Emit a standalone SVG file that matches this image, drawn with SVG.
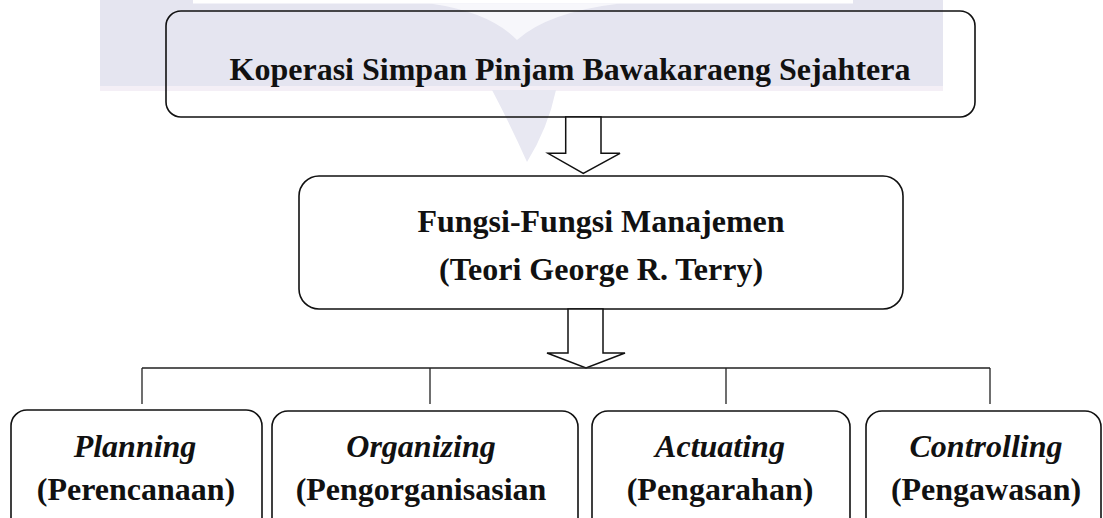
<svg xmlns="http://www.w3.org/2000/svg" width="1103" height="518" viewBox="0 0 1103 518">
<style>
.box{fill:none;stroke:#111;stroke-width:1.6}
.t{font-family:"Liberation Serif","Times New Roman",serif;font-size:32px;font-weight:bold;fill:#111;text-anchor:middle}
.i{font-style:italic}
.ln{stroke:#222;stroke-width:1.3;fill:none}
.arr{fill:#fff;stroke:#111;stroke-width:1.5;stroke-linejoin:miter}
</style>
<rect width="1103" height="518" fill="#fff"/>
<g id="watermark">
<rect x="100" y="0" width="843" height="90" fill="#e5e5f0"/>
<rect x="193" y="0" width="660" height="3.5" fill="#fff"/>
<path d="M430 3.5 Q490 12 517 40 Q548 12 620 3.5 Z" fill="#f7f7fb"/>
<rect x="100" y="86" width="843" height="5" fill="#f4eff6"/>
<path d="M492 90 L556 90 Q548 128 527 162 Q512 128 492 90 Z" fill="#e8e8f2"/>
</g>
<g id="n-koperasi">
<rect class="box" x="166" y="11" width="809" height="106" rx="15"/>
<text class="t" x="570" y="80">Koperasi Simpan Pinjam Bawakaraeng Sejahtera</text>
</g>
<g id="n-fungsi">
<rect class="box" x="299" y="176" width="604" height="133" rx="20"/>
<text class="t" x="601" y="232">Fungsi-Fungsi Manajemen</text>
<text class="t" x="601" y="280">(Teori George R. Terry)</text>
</g>
<g id="n-planning">
<rect class="box" x="11" y="410" width="251" height="140" rx="16"/>
<text class="t i" x="135" y="457">Planning</text>
<text class="t" x="136" y="500">(Perencanaan)</text>
</g>
<g id="n-organizing">
<rect class="box" x="272" y="411" width="306" height="140" rx="16"/>
<text class="t i" x="421" y="457">Organizing</text>
<text class="t" x="421" y="500">(Pengorganisasian</text>
</g>
<g id="n-actuating">
<rect class="box" x="592" y="411" width="258" height="140" rx="16"/>
<text class="t i" x="720" y="457">Actuating</text>
<text class="t" x="720" y="500">(Pengarahan)</text>
</g>
<g id="n-controlling">
<rect class="box" x="866" y="411" width="235" height="140" rx="16"/>
<text class="t i" x="986" y="457">Controlling</text>
<text class="t" x="986" y="500">(Pengawasan)</text>
</g>
<g id="connectors">
<polygon class="arr" points="565.7,117 601,117 601,153.3 620,153.3 583.3,173.3 548,153.3 565.7,153.3"/>
<polygon class="arr" points="568,309 603,309 603,353 625,353 586,368 547,353 568,353"/>
<path class="ln" d="M142 368 H990 M142 368 V404 M430 368 V404 M726 368 V404 M990 368 V404"/>
</g>
</svg>
